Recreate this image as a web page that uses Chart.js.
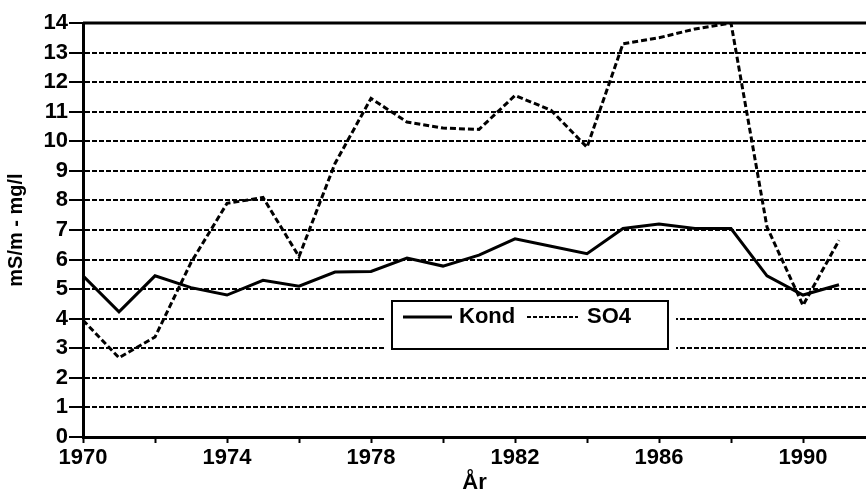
<!DOCTYPE html>
<html>
<head>
<meta charset="utf-8">
<script src="https://cdn.jsdelivr.net/npm/chart.js@4"></script>
<style>
  html, body { margin: 0; padding: 0; background: #fff; }
  #wrap { width: 866px; height: 496px; }
</style>
</head>
<body>
<div id="wrap"><canvas id="chart" width="866" height="496"></canvas></div>
<script>
// years and measured values
const years = [1970, 1971, 1972, 1973, 1974, 1975, 1976, 1977, 1978, 1979, 1980,
               1981, 1982, 1983, 1984, 1985, 1986, 1987, 1988, 1989, 1990, 1991];
const kond = [5.45, 4.23, 5.45, 5.05, 4.8, 5.3, 5.1, 5.58, 5.6, 6.05, 5.78,
              6.15, 6.7, 6.45, 6.2, 7.05, 7.2, 7.05, 7.05, 5.45, 4.8, 5.15];
const so4 = [3.95, 2.68, 3.38, 5.9, 7.9, 8.1, 6.1, 9.25, 11.45, 10.65, 10.45,
             10.4, 11.55, 11.05, 9.8, 13.3, 13.5, 13.8, 14.0, 7.1, 4.45, 6.65];

// axis ticks
const xTickYears = [1970, 1972, 1974, 1976, 1978, 1980, 1982, 1984, 1986, 1988, 1990];
const xLabelYears = [1970, 1974, 1978, 1982, 1986, 1990];

const FONT = "'Liberation Sans', Arial, sans-serif";

function toPoints(vals) {
    return years.map(function (yr, i) { return { x: yr, y: vals[i] }; });
}

// solid frame line at the top of the plot
const topFrame = {
    id: 'topFrame',
    afterDraw(chart) {
        const { ctx, chartArea } = chart;
        ctx.save();
        ctx.strokeStyle = '#000';
        ctx.lineWidth = 3;
        ctx.beginPath();
        ctx.moveTo(chartArea.left, chartArea.top);
        ctx.lineTo(chartArea.right, chartArea.top);
        ctx.stroke();
        ctx.restore();
    }
};

// boxed legend inside the plot
const legendBox = {
    id: 'legendBox',
    afterDatasetsDraw(chart) {
        const { ctx, chartArea } = chart;
        const x = chartArea.left + 309, y = chartArea.top + 278, w = 276, h = 48;
        const ds = chart.data.datasets;
        ctx.save();
        ctx.fillStyle = '#fff';
        ctx.fillRect(x - 8, y - 4, w + 16, h + 8);
        ctx.strokeStyle = '#000';
        ctx.lineWidth = 2;
        ctx.strokeRect(x, y, w, h);

        const cy = y + 16;
        // Kond sample
        ctx.lineWidth = ds[0].borderWidth;
        ctx.setLineDash([]);
        ctx.beginPath();
        ctx.moveTo(x + 11, cy);
        ctx.lineTo(x + 60, cy);
        ctx.stroke();
        // SO4 sample
        ctx.lineWidth = 2;
        ctx.setLineDash([4, 2]);
        ctx.beginPath();
        ctx.moveTo(x + 135, cy);
        ctx.lineTo(x + 186, cy);
        ctx.stroke();
        ctx.setLineDash([]);

        ctx.fillStyle = '#000';
        ctx.font = 'bold 22px ' + FONT;
        ctx.textBaseline = 'middle';
        ctx.textAlign = 'left';
        ctx.fillText(ds[0].label, x + 67, cy);
        ctx.fillText(ds[1].label, x + 195, cy);
        ctx.restore();
    }
};

new Chart('chart', {
    type: 'line',
    data: {
        datasets: [{
            label: 'Kond',
            data: toPoints(kond),
            borderColor: '#000',
            borderWidth: 3,
            pointRadius: 0,
            tension: 0,
            fill: false
        }, {
            label: 'SO4',
            data: toPoints(so4),
            borderColor: '#000',
            borderWidth: 3,
            borderDash: [6, 3],
            pointRadius: 0,
            tension: 0,
            fill: false
        }]
    },
    options: {
        responsive: false,
        animation: false,
        layout: { padding: { top: 23, right: 0, left: 0, bottom: 0 } },
        plugins: {
            legend: { display: false },
            tooltip: { enabled: false }
        },
        scales: {
            x: {
                type: 'linear',
                min: 1970,
                max: 1991.75,
                afterBuildTicks: function (scale) {
                    scale.ticks = xTickYears.map(function (v) { return { value: v }; });
                },
                afterFit: function (scale) { scale.height = 59; },
                grid: {
                    drawOnChartArea: false,
                    drawTicks: true,
                    tickLength: 6,
                    tickWidth: 2,
                    color: '#000'
                },
                border: { display: true, color: '#000', width: 3 },
                ticks: {
                    autoSkip: false,
                    maxRotation: 0,
                    padding: 2,
                    color: '#000',
                    font: { family: FONT, size: 22, weight: 'bold' },
                    callback: function (v) {
                        return xLabelYears.indexOf(v) >= 0 ? String(v) : '';
                    }
                },
                title: {
                    display: true,
                    text: 'År',
                    color: '#000',
                    padding: { top: 0, bottom: 0 },
                    font: { family: FONT, size: 22, weight: 'bold' }
                }
            },
            y: {
                min: 0,
                max: 14,
                afterFit: function (scale) { scale.width = 83; },
                grid: {
                    color: '#000',
                    lineWidth: function (c) {
                        return (c.tick && (c.tick.value === 14 || c.tick.value === 0)) ? 0 : 2;
                    },
                    drawTicks: true,
                    tickLength: 14,
                    tickWidth: 2,
                    tickColor: '#000'
                },
                border: { display: true, color: '#000', width: 3, dash: [5, 2] },
                ticks: {
                    stepSize: 1,
                    padding: 1,
                    color: '#000',
                    font: { family: FONT, size: 22, weight: 'bold' }
                },
                title: {
                    display: true,
                    text: 'mS/m - mg/l',
                    color: '#000',
                    padding: { top: 4, bottom: 0 },
                    font: { family: FONT, size: 20, weight: 'bold' }
                }
            }
        }
    },
    plugins: [topFrame, legendBox]
});
</script>
</body>
</html>
